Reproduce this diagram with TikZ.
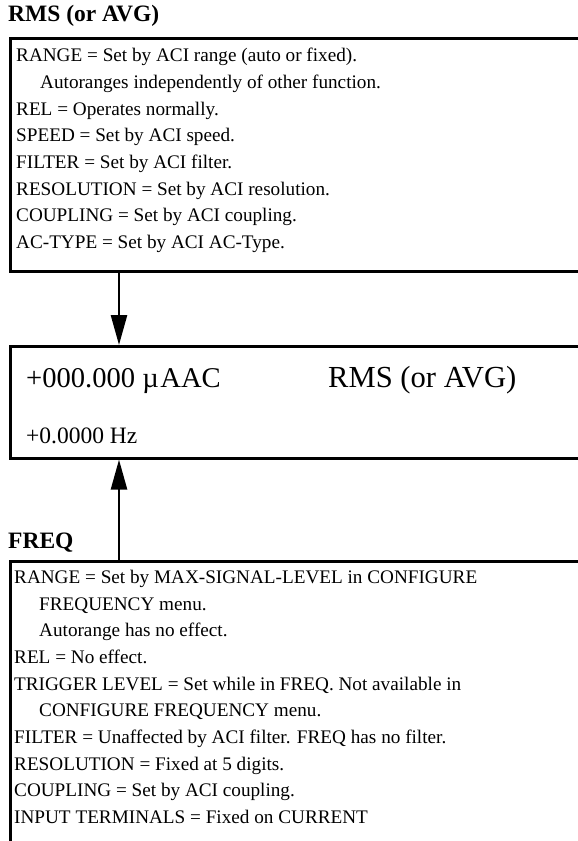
\documentclass[tikz,border=0pt]{standalone}
\usepackage{fontspec}
\setmainfont{Liberation Serif}
\usetikzlibrary{arrows.meta}
\begin{document}
\begin{tikzpicture}[x=1pt,y=-1pt,
  frame/.style={draw=black,line width=2.6pt,anchor=north west,inner sep=0pt,minimum width=620pt},
  title/.style={anchor=base west,inner sep=0pt,font=\fontsize{23.5}{28}\selectfont\bfseries},
  body/.style={anchor=base west,inner sep=0pt,font=\fontsize{19.2}{26.7}\selectfont},
  big/.style={anchor=base west,inner sep=0pt,font=\fontsize{28.6}{34}\selectfont},
  bigr/.style={anchor=base west,inner sep=0pt,font=\fontsize{30.6}{36}\selectfont},
  mid/.style={anchor=base west,inner sep=0pt,font=\fontsize{23.5}{28}\selectfont},
  flow/.style={line width=2.6pt,-{Triangle[length=30pt,width=16pt]}}]
\useasboundingbox (0,0) rectangle (578,841);
% titles
\node[title] (t1) at (8,21) {RMS (or AVG)};
\node[title] (t2) at (8,548) {FREQ};
% frames
\node[frame,minimum height=233pt] (topbox) at (9,37) {};
\node[frame,minimum height=112pt] (midbox) at (9,345) {};
\node[frame,minimum height=320pt] (botbox) at (9,560) {};
% top box text
\node[body] (a1) at (16,61) {RANGE = Set by ACI range (auto or fixed).};
\node[body] (a2) at (40,88) {Autoranges independently of other function.};
\node[body] (a3) at (16,115) {REL = Operates normally.};
\node[body] (a4) at (16,141) {SPEED = Set by ACI speed.};
\node[body] (a5) at (16,168) {FILTER = Set by ACI filter.};
\node[body] (a6) at (16,195) {RESOLUTION = Set by ACI resolution.};
\node[body] (a7) at (16,221) {COUPLING = Set by ACI coupling.};
\node[body] (a8) at (16,248) {AC-TYPE = Set by ACI AC-Type.};
% middle box text
\node[big] (m1) at (26,387) {+000.000 µ\kern1.5pt AAC};
\node[bigr] (m2) at (328,387) {RMS (or AVG)};
\node[mid] (m3) at (26,443) {+0.0000 Hz};
% bottom box text
\node[body] (b1) at (14,583) {RANGE = Set by MAX-SIGNAL-LEVEL in CONFIGURE};
\node[body] (b2) at (39,610) {FREQUENCY menu.};
\node[body] (b3) at (39,636) {Autorange has no effect.};
\node[body] (b4) at (14,663) {REL = No effect.};
\node[body] (b5) at (14,690) {TRIGGER LEVEL = Set while in FREQ. Not available in};
\node[body] (b6) at (39,716) {CONFIGURE FREQUENCY menu.};
\node[body] (b7) at (14,743) {FILTER = Unaffected by ACI filter. FREQ has no filter.};
\node[body] (b8) at (14,770) {RESOLUTION = Fixed at 5 digits.};
\node[body] (b9) at (14,796) {COUPLING = Set by ACI coupling.};
\node[body] (b10) at (14,823) {INPUT TERMINALS = Fixed on CURRENT};
% connectors
\coordinate (ax) at (119,0);
\draw[flow] (topbox.south -| ax) -- (midbox.north -| ax);
\draw[flow] (botbox.north -| ax) -- (midbox.south -| ax);
\end{tikzpicture}
\end{document}
